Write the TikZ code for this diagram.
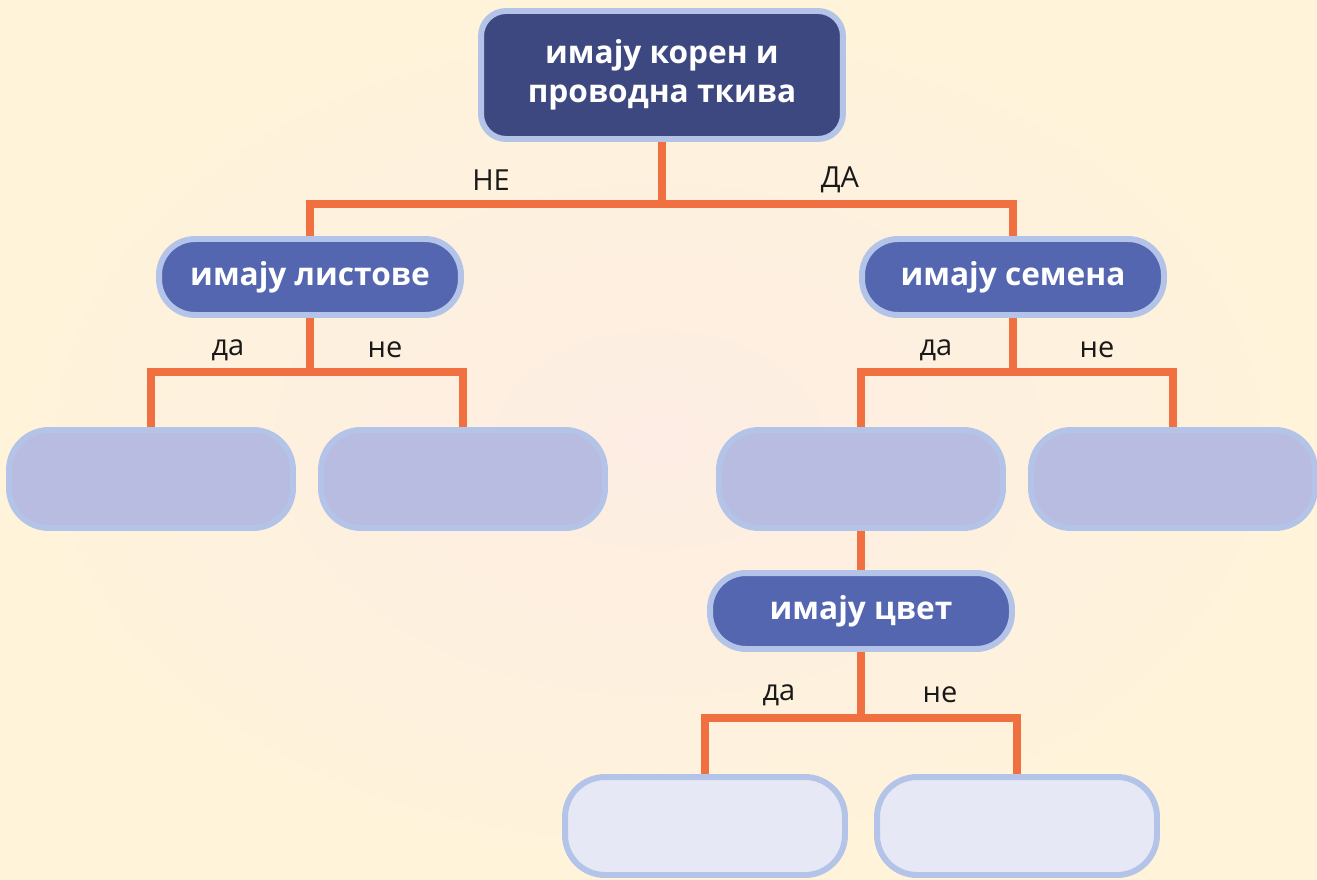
\documentclass[tikz,border=0pt]{standalone}
\usepackage{fontspec}
\setmainfont{Open Sans}
\usetikzlibrary{positioning, calc}

\definecolor{bgin}{RGB}{253,237,228}
\definecolor{bgout}{RGB}{255,243,218}
\definecolor{rim}{RGB}{180,196,232}
\definecolor{navy}{RGB}{61,72,128}
\definecolor{midblue}{RGB}{84,102,176}
\definecolor{lavender}{RGB}{184,188,224}
\definecolor{pale}{RGB}{230,232,245}
\definecolor{branch}{RGB}{240,112,66}

\begin{document}
\begin{tikzpicture}[
        x=0.02cm, y=-0.02cm,
        keybox/.style={
            rectangle,
            draw=rim,
            line width=3.4pt,
            align=center,
            text=white,
            font=\fontsize{18}{22}\selectfont\bfseries
        },
        rootbox/.style={keybox, fill=navy, minimum width=7.24cm, minimum height=2.56cm, rounded corners=0.5cm},
        askbox/.style={keybox, fill=midblue, minimum width=6.04cm, minimum height=1.52cm, rounded corners=0.72cm},
        answer/.style={keybox, fill=lavender, minimum width=5.68cm, minimum height=1.96cm, rounded corners=0.8cm},
        lastanswer/.style={keybox, fill=pale, minimum width=5.6cm, minimum height=1.96cm, rounded corners=0.8cm},
        link/.style={draw=branch, line width=4.5pt},
        choice/.style={font=\fontsize{16.5}{18}\selectfont, text=black!90}
    ]

    % Background
    \useasboundingbox (0,0) rectangle (1317,879);
    \shade[inner color=bgin, outer color=bgout] (0,0) rectangle (1317,879);

    % Question and answer boxes
    \node[rootbox] (root) at (662,75) {имају корен и\\проводна ткива};
    \node[askbox] (leaves) at (310,277) {имају листове};
    \node[askbox] (seeds) at (1013,277) {имају семена};
    \node[answer] (leavesyes) at (151,479) {};
    \node[answer] (leavesno) at (463,479) {};
    \node[answer] (seedsyes) at (861,479) {};
    \node[answer] (seedsno) at (1173,479) {};
    \node[askbox] (flower) at (861,611) {имају цвет};
    \node[lastanswer] (floweryes) at (705,826) {};
    \node[lastanswer] (flowerno) at (1017,826) {};

    % Branch junctions
    \coordinate (rootfork) at ($(root.south)+(0,62)$);
    \coordinate (leavesfork) at ($(leaves.south)+(0,54)$);
    \coordinate (seedsfork) at ($(seeds.south)+(0,54)$);
    \coordinate (flowerfork) at ($(flower.south)+(0,66)$);

    % Connectors
    \draw[link] (root.south) -- (rootfork) -| (leaves.north);
    \draw[link] (rootfork) -| (seeds.north);
    \draw[link] (leaves.south) -- (leavesfork) -| (leavesyes.north);
    \draw[link] (leavesfork) -| (leavesno.north);
    \draw[link] (seeds.south) -- (seedsfork) -| (seedsyes.north);
    \draw[link] (seedsfork) -| (seedsno.north);
    \draw[link] (seedsyes.south) -- (flower.north);
    \draw[link] (flower.south) -- (flowerfork) -| (floweryes.north);
    \draw[link] (flowerfork) -| (flowerno.north);

    % Labels
    \node[choice] (no1) at (491,180) {НЕ};
    \node[choice] (yes1) at (840,180) {ДА};
    \node[choice] (yes2) at (228,350) {да};
    \node[choice] (no2) at (385,350) {не};
    \node[choice] (yes3) at (936,350) {да};
    \node[choice] (no3) at (1097,350) {не};
    \node[choice] (yes4) at (779,695) {да};
    \node[choice] (no4) at (940,695) {не};

\end{tikzpicture}
\end{document}
